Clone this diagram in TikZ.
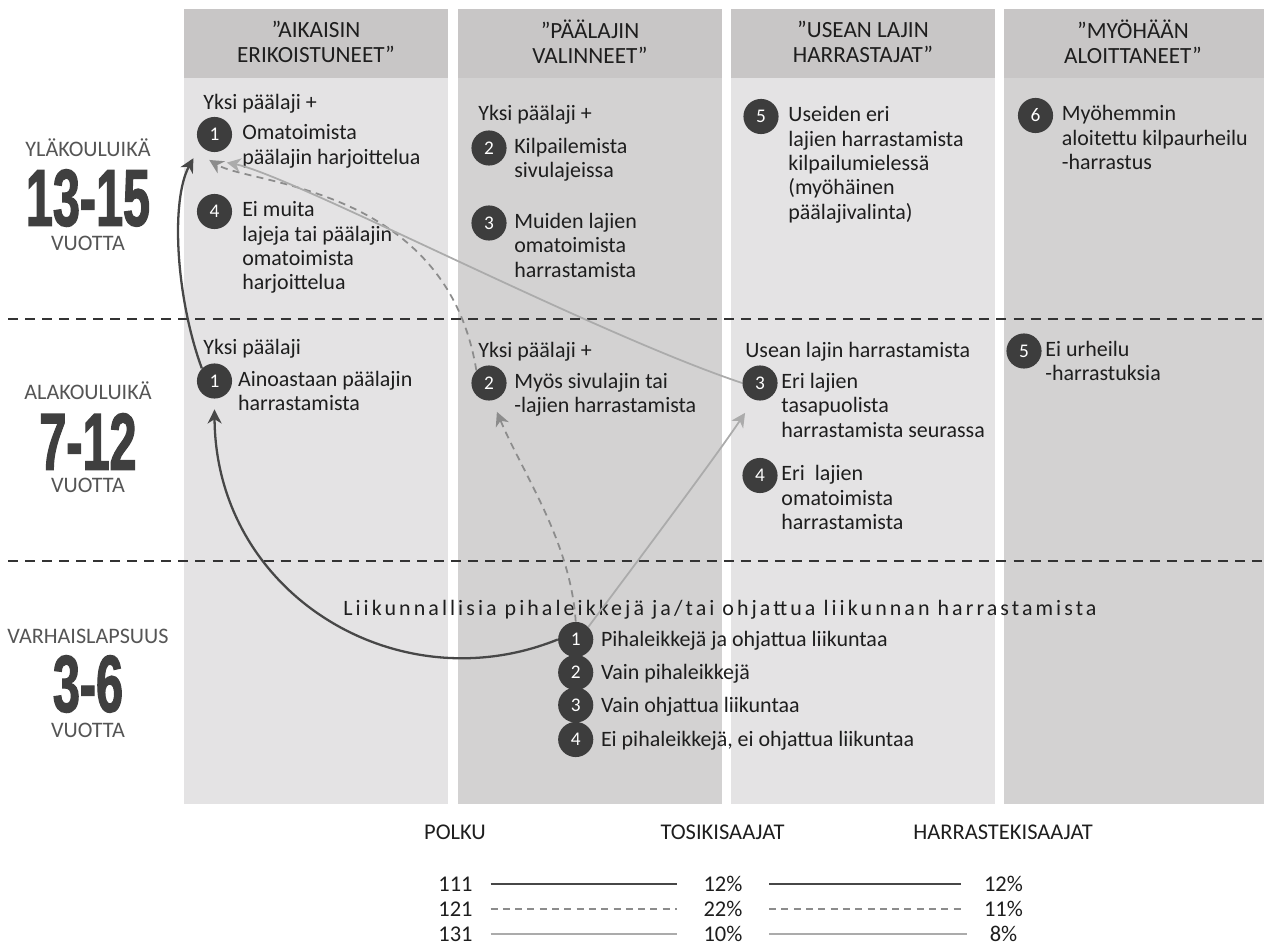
\documentclass[tikz,border=0pt]{standalone}
\usepackage{fontspec}
\setmainfont{Carlito}
\newfontfamily\bignumfont[FakeStretch=0.6, FakeBold=1.5]{Liberation Sans}
\newfontfamily\spacedfont[LetterSpace=14]{Carlito}
\usetikzlibrary{arrows.meta, positioning}

\definecolor{headgray}{HTML}{C8C6C6}
\definecolor{lightcol}{HTML}{E4E3E4}
\definecolor{darkcol}{HTML}{D3D2D2}
\definecolor{dotgray}{HTML}{3D3D3D}
\definecolor{agegray}{HTML}{555555}
\definecolor{numgray}{HTML}{3F3F3F}
\definecolor{inkgray}{HTML}{1E1E1E}
\definecolor{lineA}{HTML}{474747}
\definecolor{lineB}{HTML}{8C8C8C}
\definecolor{lineC}{HTML}{ABABAB}

\tikzset{
  colhead/.style={align=center, inner sep=0pt, text=inkgray, font=\fontsize{13.2}{14.4}\selectfont},
  numdot/.style={circle, fill=dotgray, text=white, minimum size=20pt, inner sep=0pt, font=\fontsize{11}{11}\selectfont},
  item/.style={anchor=north west, yshift=5.9pt, align=left, inner sep=0pt, text=inkgray, font=\fontsize{12.5}{13.9}\selectfont, execute at begin node=\strut},
  sublabel/.style={anchor=base west, inner sep=0pt, text=inkgray, font=\fontsize{12.5}{13.9}\selectfont},
  agelabel/.style={anchor=base, inner sep=0pt, text=agegray, font=\fontsize{12.6}{13}\selectfont},
  agenum/.style={inner sep=0pt, text=numgray, font=\bignumfont\fontsize{46}{46}\selectfont\bfseries},
  legtext/.style={inner sep=0pt, text=inkgray, font=\fontsize{12.8}{14}\selectfont},
  sepline/.style={draw=black!80, line width=1.3pt, dash pattern=on 5.7pt off 4pt},
  pathA/.style={draw=lineA, line width=1.3pt},
  pathB/.style={draw=lineB, line width=1pt, dash pattern=on 4pt off 3pt},
  pathC/.style={draw=lineC, line width=1pt},
  arrow/.style={-{Stealth[length=8pt, width=8pt, inset=2.5pt]}}
}

\begin{document}
\begin{tikzpicture}[x=0.02cm, y=-0.02cm]
\useasboundingbox (0,0) rectangle (1264,945);

% Columns
\foreach \x/\w/\c in {184/264/lightcol, 458/264/darkcol, 731/264/lightcol, 1004/260/darkcol}{
  \fill[\c] (\x,9) rectangle ++(\w,795);
  \fill[headgray] (\x,9) rectangle ++(\w,69);
}

% Age separators
\draw[sepline] (8,319) -- (1264,319);
\draw[sepline] (8,561) -- (1264,561);

% Column heads
\node[colhead] (hd1) at (316,42) {”AIKAISIN\\ERIKOISTUNEET”};
\node[colhead] (hd2) at (590,42) {”PÄÄLAJIN\\VALINNEET”};
\node[colhead] (hd3) at (863,42) {”USEAN LAJIN\\HARRASTAJAT”};
\node[colhead] (hd4) at (1133,42) {”MYÖHÄÄN\\ALOITTANEET”};

% Ages
\node[agelabel] (age1) at (88,157) {YLÄKOULUIKÄ};
\node[agenum] (num1) at (88,198) {13-15};
\node[agelabel] (yrs1) at (88,251) {VUOTTA};
\node[agelabel] (age2) at (88,400) {ALAKOULUIKÄ};
\node[agenum] (num2) at (88,441.5) {7-12};
\node[agelabel] (yrs2) at (88,493) {VUOTTA};
\node[agelabel] (age3) at (88,643) {VARHAISLAPSUUS};
\node[agenum] (num3) at (88,684) {3-6};
\node[agelabel] (yrs3) at (88,737) {VUOTTA};

% 13-15
\node[sublabel] (ekt) at (203,110) {Yksi päälaji +};
\node[numdot] (ek1) at (214.5,134.5) {1};
\node[right=15.6pt of ek1.center, item] (ek1t) {Omatoimista\\päälajin harjoittelua};
\node[numdot] (ek4) at (214.5,211.5) {4};
\node[right=15.6pt of ek4.center, item] (ek4t) {Ei muita\\lajeja tai päälajin\\omatoimista\\harjoittelua};

\node[sublabel] (pvt) at (478,120.5) {Yksi päälaji +};
\node[numdot] (pv2) at (489,148) {2};
\node[right=14.2pt of pv2.center, item] (pv2t) {Kilpailemista\\sivulajeissa};
\node[numdot] (pv3) at (489,223) {3};
\node[right=14.2pt of pv3.center, item] (pv3t) {Muiden lajien\\omatoimista\\harrastamista};

\node[numdot] (ul5) at (761,116.5) {5};
\node[right=15.4pt of ul5.center, item] (ul5t) {Useiden eri\\lajien harrastamista\\kilpailumielessä\\(myöhäinen\\päälajivalinta)};

\node[numdot] (my6) at (1035.5,115.5) {6};
\node[right=14.8pt of my6.center, item] (my6t) {Myöhemmin\\aloitettu kilpaurheilu\\-harrastus};

% 7-12
\node[sublabel] (akt1) at (203,355) {Yksi päälaji};
\node[numdot] (ak1) at (214.5,381) {1};
\node[right=13.2pt of ak1.center, item] (ak1t) {Ainoastaan päälajin\\harrastamista};

\node[sublabel] (akt2) at (478,358) {Yksi päälaji +};
\node[numdot] (ak2) at (489,383) {2};
\node[right=14.2pt of ak2.center, item] (ak2t) {Myös sivulajin tai\\-lajien harrastamista};

\node[sublabel] (akt3) at (745,358) {Usean lajin harrastamista};
\node[numdot] (ak3) at (760,383) {3};
\node[right=12pt of ak3.center, item] (ak3t) {Eri lajien\\tasapuolista\\harrastamista seurassa};
\node[numdot] (ak4) at (760,475.5) {4};
\node[right=12pt of ak4.center, item] (ak4t) {Eri\ \ lajien\\omatoimista\\harrastamista};

\node[numdot] (ak5) at (1024,351) {5};
\node[right=12pt of ak5.center, item] (ak5t) {Ei urheilu\\-harrastuksia};

% 3-6
\node[sublabel, anchor=base, font=\spacedfont\fontsize{12.5}{13.9}\selectfont] (liik) at (720,615) {Liikunnallisia pihaleikkejä ja/tai ohjattua liikunnan harrastamista};
\node[numdot] (vl1) at (575.7,639.5) {1};
\node[right=14.2pt of vl1.center, item] (vl1t) {Pihaleikkejä ja ohjattua liikuntaa};
\node[numdot] (vl2) at (575.7,672.5) {2};
\node[right=14.2pt of vl2.center, item] (vl2t) {Vain pihaleikkejä};
\node[numdot] (vl3) at (575.7,705) {3};
\node[right=14.2pt of vl3.center, item] (vl3t) {Vain ohjattua liikuntaa};
\node[numdot] (vl4) at (575.7,739.5) {4};
\node[right=14.2pt of vl4.center, item] (vl4t) {Ei pihaleikkejä, ei ohjattua liikuntaa};

% Path 111
\draw[pathA, arrow] (vl1.west) .. controls +(-161,65) and +(1,184) .. ([yshift=-6pt]ak1.south);
\draw[pathA, arrow] (ak1.north west) .. controls +(-26,-71) and +(-23,42) .. ([xshift=-12pt, yshift=-13.5pt]ek1.center);

% Path 121
\draw[pathB, arrow] (vl1.north) .. controls +(-5,-80) and +(25,60) .. ([xshift=4.5pt, yshift=-16.4pt]ak2.center);
\draw[pathB, arrow] (ak2.north west) .. controls +(-30,-185) and +(41,25) .. ([xshift=-3pt, yshift=-14.5pt]ek1.center);

% Path 131
\draw[pathC, arrow] (vl1.north east) .. controls +(30,-40) and +(-30,45) .. ([xshift=-8.5pt, yshift=-17pt]ak3.center);
\draw[pathC, arrow] (ak3.west) .. controls +(-150,-50) and +(63,12) .. ([xshift=7pt, yshift=-16pt]ek1.center);

% Legend
\node[legtext] (polku) at (455,832) {POLKU};
\node[legtext] (tosi) at (722.5,832) {TOSIKISAAJAT};
\node[legtext] (harr) at (1003,832) {HARRASTEKISAAJAT};
\foreach \p/\t/\h/\y/\s in {111/12/12/884/pathA, 121/22/11/909/pathB, 131/10/8/934/pathC}{
  \node[legtext] (p\p) at (455.5,\y) {\p};
  \node[legtext] (t\p) at (723,\y) {\t\%};
  \node[legtext] (h\p) at (1003.5,\y) {\h\%};
  \draw[\s, shorten <=10pt, shorten >=15pt] (p\p) -- (t\p);
  \draw[\s, shorten <=15pt, shorten >=13pt] (t\p) -- (h\p);
}

\end{tikzpicture}
\end{document}
